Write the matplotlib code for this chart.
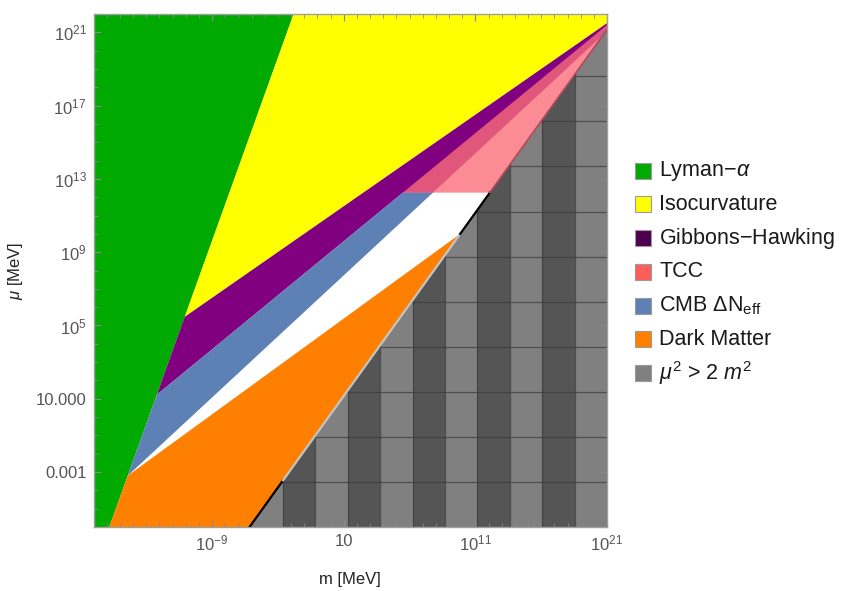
import numpy as np
import matplotlib
matplotlib.use('Agg')
import matplotlib.pyplot as plt
from matplotlib.patches import Rectangle
from matplotlib.ticker import FixedLocator, FixedFormatter

plt.rcParams['font.family'] = ['Liberation Sans', 'DejaVu Sans']
plt.rcParams['mathtext.fontset'] = 'custom'
plt.rcParams['mathtext.rm'] = 'Liberation Sans'
plt.rcParams['mathtext.it'] = 'Liberation Sans:italic'

# all boundaries given as log10(m / MeV), log10(mu / MeV)
xlim_log = [-18, 21]
ylim_log = [-6, 22]

# Lyman-alpha (left of mu ~ m^2 line)
lyman_x = [-18, -16.8, -2.8, -18]
lyman_y = [-6, -6, 22, 22]

# Isocurvature
iso_x = [-11.07, -2.8, 21, 21]
iso_y = [5.47, 22, 22, 21.5]

# Gibbons-Hawking
gh_x = [-13.19, -11.07, 21, 21, 7.78, 5.5]
gh_y = [1.22, 5.47, 21.5, 21.06, 12.25, 12.25]

# CMB Delta N_eff
cmb_x = [-15.4, -13.19, 5.5, 7.78]
cmb_y = [-3.2, 1.22, 12.25, 12.25]

# TCC
tcc_x = [5.5, 21, 21, 12.1]
tcc_y = [12.25, 21.4, 21.15, 12.25]

# Dark matter
dm_x = [-16.8, -15.4, 9.85, -6.15]
dm_y = [-6, -3.2, 10.0, -6]

# mu^2 > 2 m^2
tach_x = [-6.15, 21, 21]
tach_y = [-6, -6, 21.15]

# mesh of the grey region
band_edges = [21 - 2.46 * j for j in range(12)]
mesh_rows = [-6 + 2.46 * k for k in range(1, 12)]

# boundary segments along the mu = sqrt(2) m line
edge_black1 = ([-6.15, -3.6], [-6, -3.45])
edge_grey = ([-3.6, 9.85], [-3.45, 10.0])
edge_black2 = ([9.85, 12.1], [10.0, 12.25])
edge_pink = ([12.1, 21], [12.25, 21.15])

legend_labels = ['Lyman$-\\alpha$', 'Isocurvature', 'Gibbons$-$Hawking', 'TCC',
                 'CMB $\\Delta$N$_{\\rm eff}$', 'Dark Matter', '$\\mu^2$ > 2 $m^2$']
legend_colors = ['#00aa00', '#ffff00', '#4d004d', '#ff5c5c', '#5e81b5', '#ff8000', '#808080']


def p(v):
    return 10.0 ** np.array(v)


W, H = 844, 591
fig = plt.figure(figsize=(W / 100, H / 100), dpi=100)
ax = fig.add_axes([93.5 / W, 1 - 527 / H, (607 - 93.5) / W, (527 - 14) / H])
ax.set_xscale('log')
ax.set_yscale('log')
ax.set_xlim(p(xlim_log))
ax.set_ylim(p(ylim_log))

ax.fill(p(lyman_x), p(lyman_y), color='#00aa00', lw=0)
ax.fill(p(iso_x), p(iso_y), color='#ffff00', lw=0)
ax.fill(p(gh_x), p(gh_y), color='#800080', lw=0)
ax.fill(p(cmb_x), p(cmb_y), color='#5e81b5', lw=0)
ax.fill(p(dm_x), p(dm_y), color='#ff8000', lw=0)
ax.fill(p(tcc_x), p(tcc_y), color='#fa6e7a', alpha=0.8, lw=0)

tri = ax.fill(p(tach_x), p(tach_y), color='#808080', lw=0)[0]
for j in range(len(band_edges) - 1):
    if j % 2 == 1:
        s = ax.axvspan(10 ** band_edges[j + 1], 10 ** band_edges[j], color='#555555', lw=0)
        s.set_clip_path(tri)
for e in band_edges:
    l = ax.axvline(10 ** e, color='#3a3a3a', lw=0.9, alpha=0.7)
    l.set_clip_path(tri)
for r in mesh_rows:
    l = ax.axhline(10 ** r, color='#3a3a3a', lw=0.9, alpha=0.7)
    l.set_clip_path(tri)

ax.plot(p(edge_black1[0]), p(edge_black1[1]), color='black', lw=1.6)
ax.plot(p(edge_grey[0]), p(edge_grey[1]), color='#c4c4c4', lw=1.6)
ax.plot(p(edge_black2[0]), p(edge_black2[1]), color='black', lw=1.6)
ax.plot(p(edge_pink[0]), p(edge_pink[1]), color='#b04858', lw=1.2)

# ticks
xmaj = [-9, 1, 11, 21]
ymaj = [21, 17, 13, 9, 5, 1, -3]
ax.xaxis.set_major_locator(FixedLocator(p(xmaj)))
ax.xaxis.set_major_formatter(FixedFormatter(['$10^{-9}$', '10', '$10^{11}$', '$10^{21}$']))
ax.xaxis.set_minor_locator(FixedLocator(p([v for v in range(-18, 22) if v not in xmaj])))
ax.yaxis.set_major_locator(FixedLocator(p(ymaj)))
ax.yaxis.set_major_formatter(FixedFormatter(['$10^{21}$', '$10^{17}$', '$10^{13}$', '$10^{9}$',
                                             '$10^{5}$', '10.000', '0.001']))
ax.yaxis.set_minor_locator(FixedLocator(p([v for v in range(-6, 23) if v not in ymaj])))
ax.xaxis.set_minor_formatter(FixedFormatter([]))
ax.yaxis.set_minor_formatter(FixedFormatter([]))
ax.tick_params(which='both', direction='in', top=True, right=True, color='#888888',
               labelcolor='#555555', labelsize=12, pad=5)
ax.tick_params(which='major', length=5, width=0.8)
ax.tick_params(which='minor', length=3, width=0.6)
for sp in ax.spines.values():
    sp.set_color('#a0a0a0')
    sp.set_linewidth(1.0)

ax.set_xlabel('m [MeV]', fontsize=12, color='#222222', labelpad=13)
ax.set_ylabel('$\\mu$ [MeV]', fontsize=12, color='#222222', labelpad=8)

# legend
for i, (lab, col) in enumerate(zip(legend_labels, legend_colors)):
    yc = 170.7 + 33.7 * i
    fig.add_artist(Rectangle((635 / W, 1 - (yc + 8) / H), 16 / W, 16 / H,
                             transform=fig.transFigure, facecolor=col,
                             edgecolor='#9a9a9a', lw=0.8))
    fig.text(659 / W, 1 - yc / H, lab, va='center', ha='left', fontsize=15.5, color='#1a1a1a')

fig.savefig('out.png', dpi=100)
